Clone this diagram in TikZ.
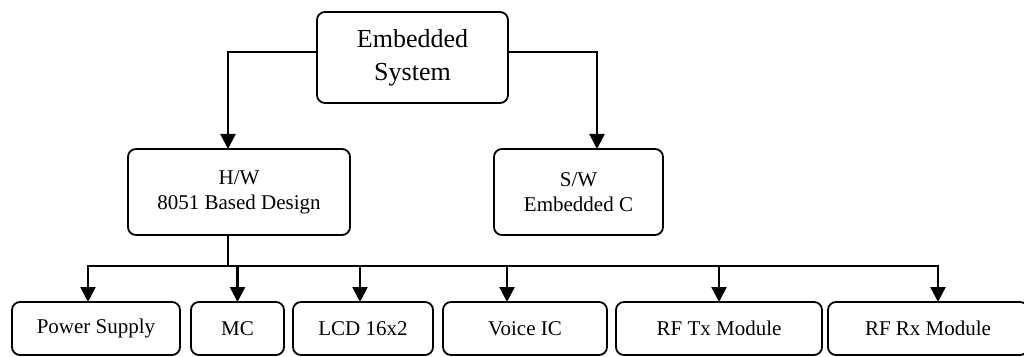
\documentclass[tikz,border=0pt]{standalone}
\usepackage{fontspec}
\setmainfont{Liberation Serif}
\usetikzlibrary{arrows.meta,positioning}
\tikzstyle{block}=[
	rectangle,
	rounded corners=8pt,
	draw=black,
	line width=1.8pt,
	outer sep=0pt,
	align=center,
	font=\fontsize{21pt}{25pt}\selectfont
]
\tikzstyle{part}=[
	block,
	minimum height=53pt
]
\tikzstyle{link}=[
	-{Triangle[width=15pt,length=15pt]},
	line width=2.4pt
]

\begin{document}
\begin{tikzpicture}[x=1pt,y=1pt]
\useasboundingbox (0,0) rectangle (1024,356);
\node [block, minimum width=191pt, minimum height=91pt, font=\fontsize{26pt}{33pt}\selectfont] (EmbeddedSystem) at (412.5,298.5) {Embedded\\System};
\node [block, minimum width=222pt, minimum height=86pt] (Hardware) at (239,164) {H/W\\8051 Based Design};
\node [block, minimum width=169pt, minimum height=86pt] (Software) at (578.5,164) {S/W\\Embedded C};
\node [part, minimum width=168pt] (PowerSupply) at (96,27.5) {Power Supply};
\node [part, minimum width=93pt] (MC)[right=11pt of PowerSupply] {MC};
\node [part, minimum width=140pt] (LCD)[right=9pt of MC] {LCD 16x2};
\node [part, minimum width=164pt] (VoiceIC)[right=10pt of LCD] {Voice IC};
\node [part, minimum width=206pt] (RFTx)[right=9pt of VoiceIC] {RF Tx Module};
\node [part, minimum width=200pt] (RFRx)[right=6pt of RFTx] {RF Rx Module};
\draw [link] ([yshift=5.5pt]EmbeddedSystem.west) -| ([xshift=-11pt]Hardware.north);
\draw [link] ([yshift=5.5pt]EmbeddedSystem.east) -| ([xshift=18.5pt]Software.north);
\path ([xshift=-11pt]Hardware.south) ++(0,-31) coordinate (bus);
\draw [line width=2.4pt] ([xshift=-11pt]Hardware.south) -- (bus);
\draw [link] (bus) -| ([xshift=-8pt]PowerSupply.north);
\draw [link] (bus) -| (MC.north);
\draw [link] (bus) -| ([xshift=-3pt]LCD.north);
\draw [link] (bus) -| ([xshift=-18pt]VoiceIC.north);
\draw [link] (bus) -| (RFTx.north);
\draw [link] (bus) -| ([xshift=10pt]RFRx.north);
\end{tikzpicture}
\end{document}
